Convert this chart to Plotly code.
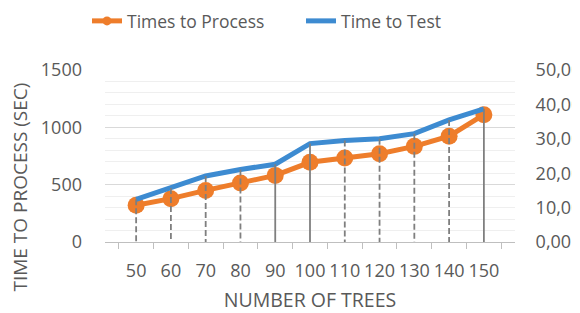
import plotly.graph_objects as go

# Data
trees = ["50", "60", "70", "80", "90", "100", "110", "120", "130", "140", "150"]
times_to_process = [320, 378, 450, 514, 581, 695, 732, 770, 834, 923, 1110]
time_to_test = [12.4, 15.7, 19.2, 21.1, 22.6, 28.6, 29.5, 30.0, 31.5, 35.5, 38.7]
left_ticks = [0, 500, 1000, 1500]
right_ticks = [0, 10, 20, 30, 40, 50]
right_tick_labels = ["0,00", "10,00", "20,00", "30,00", "40,00", "50,00"]
solid_drop = ["90", "100", "150"]

ORANGE = "#EE7D2B"
BLUE = "#3D8BD1"
TXT = "#595959"
FONT = "Open Sans"

# page body adds an 8px offset; the figure is sized to the visible window
W, H = 572, 305
L, R, T, B = 97, 65, 62, 71
PW, PH = W - L - R, H - T - B

def drop_segments(cats, vals, keep):
    xs, ys = [], []
    for c, v in zip(cats, vals):
        if keep(c):
            xs += [c, c, None]
            ys += [v, 0, None]
    return xs, ys

fig = go.Figure()

fig.add_trace(go.Scatter(
    x=trees, y=times_to_process, mode="lines+markers", name="Times to Process",
    line=dict(color=ORANGE, width=5), marker=dict(color=ORANGE, size=17),
    showlegend=False, yaxis="y"))
fig.add_trace(go.Scatter(
    x=trees, y=time_to_test, mode="lines", name="Time to Test",
    line=dict(color=BLUE, width=5), showlegend=False, yaxis="y2"))

dx, dy = drop_segments(trees, time_to_test, lambda c: c not in solid_drop)
fig.add_trace(go.Scatter(x=dx, y=dy, mode="lines", yaxis="y2", showlegend=False,
                         line=dict(color="#7F7F7F", width=1.8, dash="6px,3px"),
                         hoverinfo="skip"))
sx, sy = drop_segments(trees, time_to_test, lambda c: c in solid_drop)
fig.add_trace(go.Scatter(x=sx, y=sy, mode="lines", yaxis="y2", showlegend=False,
                         line=dict(color="#7F7F7F", width=1.8), hoverinfo="skip"))

# legend-only entries
fig.add_trace(go.Scatter(x=[None], y=[None], mode="lines+markers", name="Times to Process",
                         line=dict(color=ORANGE, width=5), marker=dict(color=ORANGE, size=9),
                         legend="legend"))
fig.add_trace(go.Scatter(x=[None], y=[None], mode="lines", name="Time to Test",
                         line=dict(color=BLUE, width=5), legend="legend2"))

leg_common = dict(orientation="h", xref="container", yref="container",
                  xanchor="left", y=1 - 13 / H, yanchor="middle",
                  font=dict(size=17.5, color=TXT, family=FONT), itemwidth=30,
                  bgcolor="rgba(0,0,0,0)", borderwidth=0)

fig.update_layout(
    width=W, height=H,
    margin=dict(l=L, r=R, t=T, b=B, autoexpand=False),
    paper_bgcolor="white", plot_bgcolor="white",
    font=dict(family=FONT, color=TXT, size=18),
    legend=dict(leg_common, x=79 / W),
    legend2=dict(leg_common, x=293 / W),
    xaxis=dict(type="category", tickson="boundaries", ticks="outside", ticklen=6,
               tickcolor="#BFBFBF", showline=True, linecolor="#BFBFBF", linewidth=1,
               showgrid=False, zeroline=False, tickfont=dict(size=18, color=TXT),
               tickangle=0, ticklabelstandoff=12, automargin=False,
               title=dict(text="NUMBER OF TREES", font=dict(size=19.5, color=TXT), standoff=23)),
    yaxis=dict(range=[0, 1500], tickvals=left_ticks, showgrid=True, gridcolor="#D9D9D9",
               gridwidth=1, zeroline=False, showline=False, ticks="", automargin=False,
               minor=dict(dtick=100, tick0=0, showgrid=True, gridcolor="#EFEFEF", gridwidth=1),
               tickfont=dict(size=18, color=TXT), ticklabelstandoff=22),
    yaxis2=dict(range=[0, 50], tickvals=right_ticks, ticktext=right_tick_labels,
                overlaying="y", side="right", showgrid=False, zeroline=False,
                showline=False, ticks="outside", ticklen=16, tickcolor="rgba(0,0,0,0)",
                tickfont=dict(size=18, color=TXT), automargin=False),
    annotations=[dict(text="TIME TO PROCESS (SEC)", textangle=-90, showarrow=False,
                      xref="paper", yref="paper", x=(11 - L) / PW, y=(H - B - 179.5) / PH,
                      xanchor="center", yanchor="middle",
                      font=dict(size=19, color=TXT, family=FONT))],
)

fig.write_html("out.html")
